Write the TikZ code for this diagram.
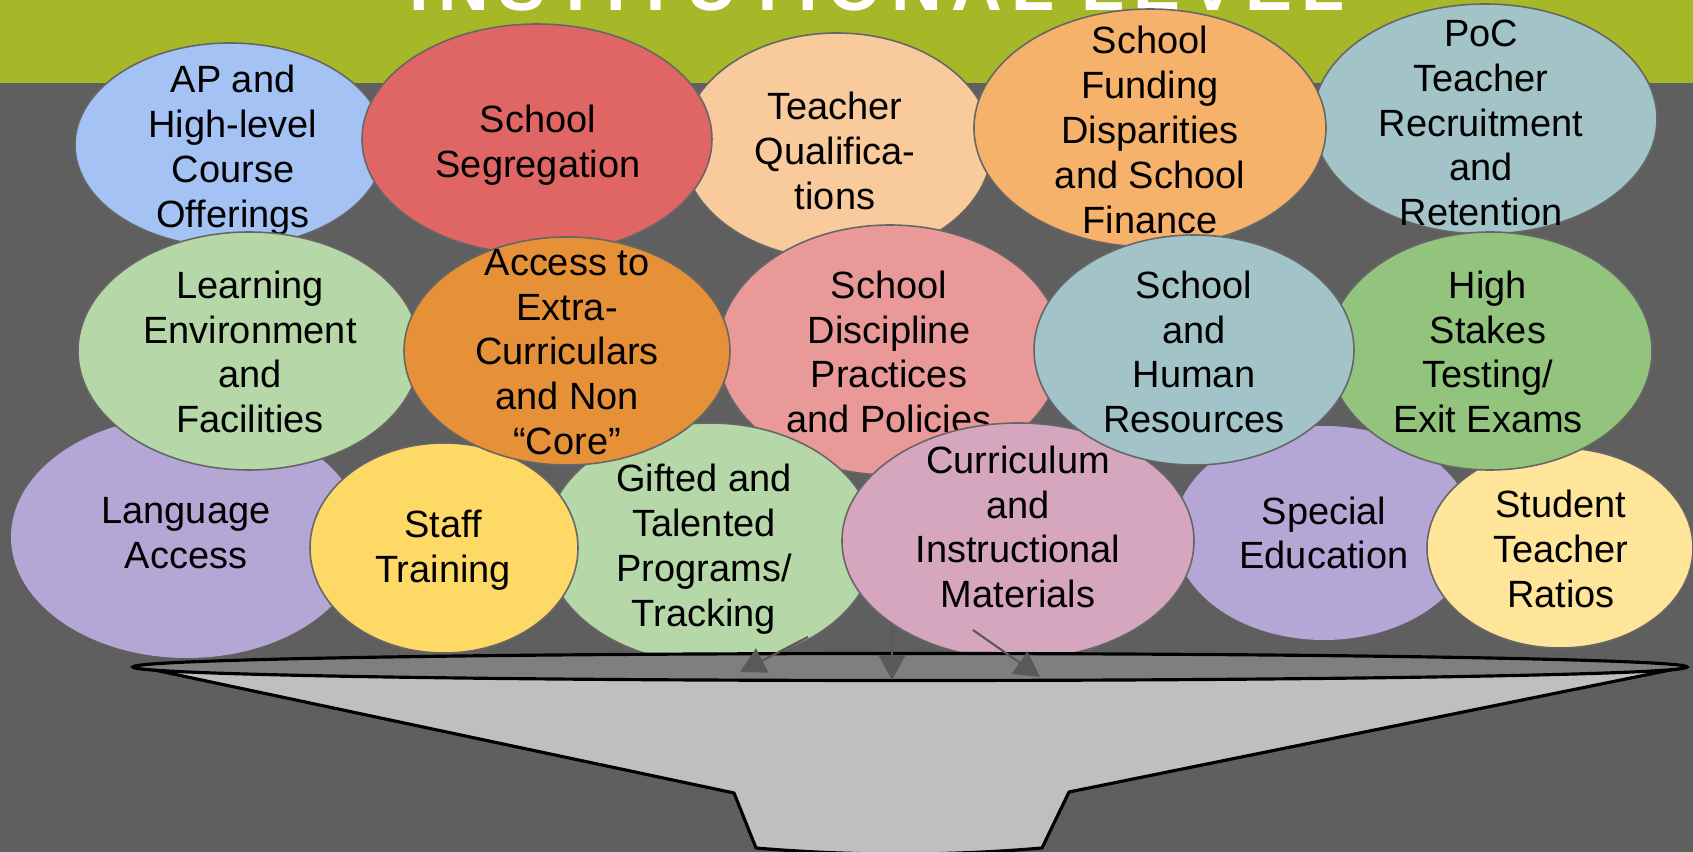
\documentclass[tikz,border=0pt]{standalone}
\usepackage{fontspec}
\setmainfont{Liberation Sans}
\usetikzlibrary{arrows.meta}

\definecolor{slate}{HTML}{5F5F5F}
\definecolor{bandolive}{HTML}{A6B828}
\definecolor{edgegray}{HTML}{666666}
\definecolor{feedgray}{HTML}{595959}
\definecolor{funnelgray}{HTML}{BFBFBF}
\definecolor{rimgray}{HTML}{7F7F7F}
\definecolor{apblue}{HTML}{A4C2F4}
\definecolor{segred}{HTML}{E06666}
\definecolor{qualpeach}{HTML}{F9CB9C}
\definecolor{fundorange}{HTML}{F6B26B}
\definecolor{pocteal}{HTML}{A2C4C9}
\definecolor{envgreen}{HTML}{B6D7A8}
\definecolor{accorange}{HTML}{E69138}
\definecolor{discpink}{HTML}{EA9999}
\definecolor{stakesgreen}{HTML}{93C47D}
\definecolor{langlilac}{HTML}{B4A7D6}
\definecolor{staffyellow}{HTML}{FFD966}
\definecolor{currmauve}{HTML}{D5A6BD}
\definecolor{ratioyellow}{HTML}{FFE599}

\tikzset{
  blob/.style={draw=edgegray, line width=0.45pt},
  lbl/.style={align=center, inner sep=0pt, font=\fontsize{10.8pt}{12.75pt}\selectfont},
  feed/.style={draw=feedgray, line width=0.6pt, -{Triangle[length=0.25cm, width=0.27cm]}},
}

\begin{document}
\begin{tikzpicture}[x=0.01cm, y=-0.01cm]
  \useasboundingbox (0, 0) rectangle (1693, 852) ;
  \clip (0, 0) rectangle (1693, 852) ;
  \fill[slate] (0, 0) rectangle (1693, 852) ;
  \fill[bandolive] (0, 0) rectangle (1693, 83) ;
  \node[anchor=base, text=white, inner sep=0pt] (title) at (877, 11)
    {\fontsize{20pt}{24pt}\selectfont\bfseries\makebox[9.34cm][s]{I\hfill N\hfill S\hfill T\hfill I\hfill T\hfill U\hfill T\hfill I\hfill O\hfill N\hfill A\hfill L\hfill\hfill\hfill L\hfill E\hfill V\hfill E\hfill L}} ;

  % top row
  \draw[blob, fill=apblue] (230, 145) ellipse (155 and 102) ;
  \node[lbl] (ap) at (233, 150) {AP and\\High-level\\Course\\Offerings} ;
  \draw[blob, fill=qualpeach] (837, 146) ellipse (155 and 113) ;
  \node[lbl] (qual) at (835, 151) {Teacher\\Qualifica-\\tions} ;
  \draw[blob, fill=pocteal] (1485, 119) ellipse (172 and 115) ;
  \node[lbl] (poc) at (1481, 123) {PoC\\Teacher\\Recruitment\\and\\Retention} ;
  \draw[blob, fill=segred] (537, 139) ellipse (175 and 115) ;
  \node[lbl] (seg) at (538, 145) {School\\Segregation} ;
  \draw[blob, fill=fundorange] (1150, 128) ellipse (176 and 119) ;
  \node[lbl] (fund) at (1150, 130) {School\\Funding\\Disparities\\and School\\Finance} ;

  % bottom row, partly under the middle one
  \fill[langlilac] (187, 537) ellipse (176 and 121) ;
  \node[lbl] (lang) at (186, 533) {Language\\Access} ;
  \fill[langlilac] (1324, 533) ellipse (150 and 107) ;
  \node[lbl] (sped) at (1324, 533) {Special\\Education} ;
  \draw[blob, fill=ratioyellow] (1560, 548) ellipse (133 and 100) ;
  \node[lbl] (ratio) at (1561, 549) {Student\\Teacher\\Ratios} ;
  \draw[blob, fill=stakesgreen] (1490, 351) ellipse (162 and 119) ;
  \node[lbl] (stakes) at (1488, 352) {High\\Stakes\\Testing/\\Exit Exams} ;
  \draw[blob, fill=discpink] (890, 350) ellipse (172 and 125) ;
  \node[lbl] (disc) at (889, 352) {School\\Discipline\\Practices\\and Policies} ;
  \draw[blob, fill=envgreen] (710, 543) ellipse (165 and 120) ;
  \node[lbl] (gift) at (704, 549) {Gifted and\\Talented\\Programs/\\Tracking} ;
  \draw[blob, fill=staffyellow] (444, 548) ellipse (134 and 105) ;
  \node[lbl] (staff) at (443, 550) {Staff\\Training} ;
  \draw[blob, fill=envgreen] (249, 351) ellipse (171 and 119) ;
  \node[lbl] (env) at (250, 352) {Learning\\Environment\\and\\Facilities} ;
  \draw[blob, fill=accorange] (567, 351) ellipse (163 and 114) ;
  \node[lbl] (acc) at (567, 352) {Access to\\Extra-\\Curriculars\\and Non\\“Core”} ;
  \draw[blob, fill=currmauve] (1018, 541) ellipse (176 and 118) ;
  \node[lbl] (curr) at (1018, 527) {Curriculum\\and\\Instructional\\Materials} ;
  \draw[blob, fill=pocteal] (1194, 350) ellipse (160 and 115) ;
  \node[lbl] (hr) at (1194, 352) {School\\and\\Human\\Resources} ;

  % funnel
  \draw[fill=funnelgray, line width=0.9pt, line join=round] (145, 668) -- (734, 793) -- (756, 848)
    .. controls (850, 856) and (950, 856) .. (1042, 848) -- (1069, 792) -- (1680, 668) -- cycle ;
  \draw[fill=rimgray, line width=0.9pt] (910, 667) ellipse (777 and 13.5) ;

  \coordinate (gift-tail) at (808, 637) ;
  \coordinate (gap-tail) at (892, 628) ;
  \coordinate (curr-tail) at (973, 630) ;
  \coordinate (rim-a) at (740, 672) ;
  \coordinate (rim-b) at (892, 680) ;
  \coordinate (rim-c) at (1040, 677) ;
  \draw[feed] (gift-tail) -- (rim-a) ;
  \draw[feed] (gap-tail) -- (rim-b) ;
  \draw[feed] (curr-tail) -- (rim-c) ;
\end{tikzpicture}
\end{document}
